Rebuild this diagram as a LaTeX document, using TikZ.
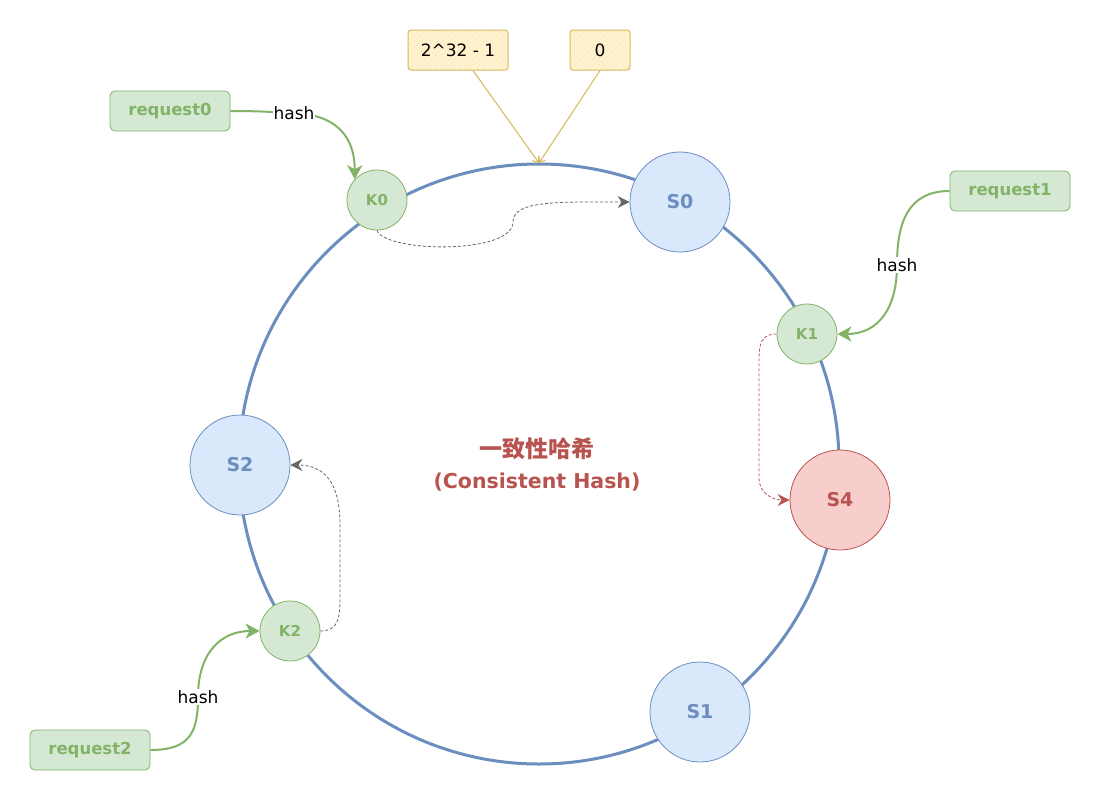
\documentclass[tikz,border=0pt]{standalone}
\usepackage{fontspec}
\setmainfont{DejaVu Sans}
\newfontfamily\cjkfont{Noto Sans CJK SC}
\usetikzlibrary{arrows.meta,patterns.meta}
\definecolor{gfill}{HTML}{D5E8D4}
\definecolor{gline}{HTML}{82B366}
\definecolor{bfill}{HTML}{DAE8FC}
\definecolor{bline}{HTML}{6C8EBF}
\definecolor{rfill}{HTML}{F8CECC}
\definecolor{rline}{HTML}{B85450}
\definecolor{yfill}{HTML}{FFF2CC}
\definecolor{yline}{HTML}{D6B656}
\definecolor{dgray}{HTML}{666666}
\tikzset{
  ring/.style={draw=bline, line width=3pt},
  snode/.style={circle, draw=bline, fill=bfill, line width=0.8pt, minimum size=100pt, inner sep=0pt,
    text=bline, font=\fontsize{19}{22}\selectfont\bfseries},
  rnode/.style={circle, draw=rline, fill=rfill, line width=0.8pt, minimum size=100pt, inner sep=0pt,
    text=rline, font=\fontsize{19}{22}\selectfont\bfseries},
  knode/.style={circle, draw=gline, fill=gfill, line width=0.8pt, minimum size=60pt, inner sep=0pt,
    text=gline, font=\fontsize{15}{16}\selectfont\bfseries},
  req/.style={rectangle, rounded corners=5pt, draw=gline, fill=gfill, line width=0.8pt,
    minimum width=120pt, minimum height=40pt, inner sep=0pt,
    text=gline, font=\fontsize{16.5}{20}\selectfont\bfseries},
  ybox/.style={rectangle, rounded corners=3pt, draw=yline, fill=yfill, line width=1pt,
    minimum height=40pt, inner sep=0pt, font=\fontsize{17}{20}\selectfont},
  hatch/.style={pattern={Lines[angle=45,distance=4pt,line width=0.5pt]}, pattern color=yline!35},
  hashlbl/.style={fill=white, inner sep=1pt, text=black, font=\fontsize{17}{20}\selectfont},
  garrow/.style={draw=gline, line width=2pt, -{Stealth[length=14pt,width=15pt,inset=4pt]}},
  darrow/.style={draw=dgray, line width=0.8pt, dash pattern=on 3pt off 2pt,
    -{Stealth[length=12pt,width=12pt,inset=4pt]}},
  rdarrow/.style={draw=rline, line width=0.8pt, dash pattern=on 3pt off 2pt,
    -{Stealth[length=12pt,width=12pt,inset=4pt]}},
  yarrow/.style={draw=yline, line width=1pt, -{Straight Barb[length=5pt,width=8pt]}},
  titletext/.style={align=center, text=rline, font=\fontsize{20.5}{31}\selectfont\bfseries}
}
\begin{document}
\begin{tikzpicture}[x=1pt,y=-1pt]
\useasboundingbox (0,0) rectangle (1101,801);
\fill[white] (0,0) rectangle (1101,801);
% ring
\draw[ring] (539,464) circle[radius=300];
\coordinate (top) at (539,163);
% servers
\node[snode] (s0) at (680,202) {S0};
\node[snode] (s1) at (700,712) {S1};
\node[snode] (s2) at (240,465) {S2};
\node[rnode] (s4) at (840,500) {S4};
% keys
\node[knode] (k0) at (377,200) {K0};
\node[knode] (k1) at (807,334) {K1};
\node[knode] (k2) at (290,631) {K2};
% requests
\node[req] (r0) at (170,111) {request0};
\node[req] (r1) at (1010,191) {request1};
\node[req] (r2) at (90,750) {request2};
% range labels
\node[ybox, minimum width=100pt] (y1) at (458,50) {};
\node[ybox, minimum width=60pt] (y0) at (600,50) {};
\path[hatch, rounded corners=3pt] (y1.south west) rectangle (y1.north east);
\path[hatch, rounded corners=3pt] (y0.south west) rectangle (y0.north east);
\node[font=\fontsize{17}{20}\selectfont] (y1t) at (y1) {2\^{}32 - 1};
\node[font=\fontsize{17}{20}\selectfont] (y0t) at (y0) {0};
% title
\node[titletext] (title) at (537,464) {{\cjkfont\bfseries\fontsize{23}{31}\selectfont 一致性哈希}\\(Consistent Hash)};
% yellow arrows
\draw[yarrow] ([xshift=15pt]y1.south) -- (top);
\draw[yarrow] (y0.south) -- (top);
% route points
\coordinate (h0) at (294,113);
\coordinate (h1) at (897,265);
\coordinate (h2) at (198,697);
\coordinate (m0) at (513,222);
\coordinate (m1a) at (759,362);
\coordinate (m1b) at (759,478);
\coordinate (m2a) at (340,598);
\coordinate (m2b) at (340,525);
% hash arrows
\draw[garrow] (r0.east) .. controls +(30,0) and +(-25,-1) .. (h0) node[hashlbl] {hash}
  .. controls +(45,2) and +(0,-40) .. (k0.137);
\draw[garrow] (r1.west) .. controls +(-42,0) and +(0,-42) .. (h1) node[hashlbl] {hash}
  .. controls +(0,42) and +(42,0) .. (k1.east);
\draw[garrow] (r2.east) .. controls +(40,0) and +(0,35) .. (h2) node[hashlbl] {hash}
  .. controls +(0,-45) and +(-38,0) .. (k2.west);
% dashed mapping arrows
\draw[darrow] (k0.south) .. controls +(8,22) and +(0,33) .. (m0)
  .. controls +(0,-22) and +(-70,0) .. (s0.west);
\draw[rdarrow] (k1.west) .. controls +(-16,0) and +(0,-18) .. (m1a) -- (m1b)
  .. controls +(0,16) and +(-16,0) .. (s4.west);
\draw[darrow] (k2.east) .. controls +(18,0) and +(0,20) .. (m2a) -- (m2b)
  .. controls +(0,-45) and +(32,0) .. (s2.east);
\end{tikzpicture}
\end{document}
